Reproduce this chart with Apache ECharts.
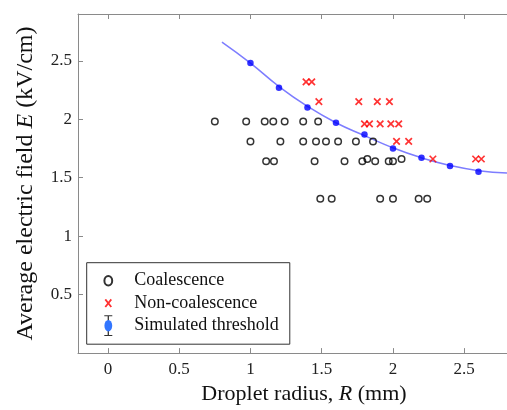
<!DOCTYPE html>
<html><head><meta charset="utf-8">
<script src="https://cdn.jsdelivr.net/npm/echarts@6/dist/echarts.min.js"></script>
<style>html,body{margin:0;padding:0;background:#fff}#c{width:507px;height:410px}</style>
</head><body><div id="c"></div>
<script>
// Coalescence (open circles)
const coalX = [0.75,0.97,1.10,1.16,1.24,1.37,1.475, 1.00,1.21,1.37,1.46,1.53,1.615,1.74,1.86, 1.11,1.165,1.45,1.66,1.785,1.82,1.875,1.97,2.00,2.06, 1.49,1.57,1.91,2.00,2.18,2.24];
const coalY = [1.98,1.98,1.98,1.98,1.98,1.98,1.98, 1.81,1.81,1.81,1.81,1.81,1.81,1.81,1.81, 1.64,1.64,1.64,1.64,1.64,1.66,1.64,1.64,1.64,1.66, 1.32,1.32,1.32,1.32,1.32,1.32];
// Non-coalescence (red crosses)
const nonX = [1.39,1.43,1.48,1.76,1.89,1.975,1.80,1.835,1.91,1.985,2.04,2.025,2.11,2.28,2.58,2.62];
const nonY = [2.32,2.32,2.15,2.15,2.15,2.15,1.96,1.96,1.96,1.96,1.96,1.81,1.81,1.66,1.66,1.66];
// Simulated threshold (blue dots)
const simX = [1.0,1.2,1.4,1.6,1.8,2.0,2.2,2.4,2.6];
const simY = [2.48,2.27,2.10,1.97,1.87,1.75,1.67,1.60,1.55];
// Fitted curve
const fitX = [0.80,1.0,1.2,1.4,1.6,1.8,2.0,2.2,2.4,2.6,2.8];
const fitY = [2.66,2.48,2.28,2.11,1.97,1.86,1.755,1.67,1.605,1.56,1.54];
// Tick labels
const xTicks = [0,0.5,1,1.5,2,2.5];
const yTicks = [0.5,1,1.5,2,2.5];

const zip = (a,b)=>a.map((v,i)=>[v,b[i]]);
const FF = '"Liberation Serif","Times New Roman",serif';

function svgIcon(inner){
  return 'image://data:image/svg+xml;charset=utf-8,' + encodeURIComponent(
    '<svg xmlns="http://www.w3.org/2000/svg" width="28" height="21" viewBox="0 0 28 21">'+inner+'</svg>');
}
const iconCoal = svgIcon('<ellipse cx="7" cy="10.5" rx="3.9" ry="4.8" fill="none" stroke="#000" stroke-width="2"/>');
const iconNon = svgIcon('<path d="M4,6.7L10,14.3M10,6.7L4,14.3" stroke="#ff0000" stroke-width="1.8" fill="none"/>');
const iconSim = svgIcon('<path d="M7,0.5V20.5M3,0.5H11M3,20.5H11" stroke="#000" stroke-width="1.3" fill="none"/><ellipse cx="7" cy="10.5" rx="3.9" ry="5.8" fill="#0055ff"/>');

const chart = echarts.init(document.getElementById('c'), null, {renderer:'canvas'});
const axisLineStyle = {color:'#8a8a8a', width:1};
chart.setOption({
  animation:false,
  backgroundColor:'#fff',
  grid:{left:78, right:0, top:14, bottom:48, containLabel:false},
  xAxis:[{
    type:'value', min:-0.21, max:2.8, position:'bottom',
    name:'Droplet radius, {i|R} (mm)', nameLocation:'middle', nameGap:28,
    nameTextStyle:{fontFamily:FF, fontSize:22, color:'#111', padding:[0,0,0,23],
      rich:{i:{fontFamily:FF, fontSize:22, fontStyle:'italic', color:'#111'}}},
    axisLine:{show:true, onZero:false, lineStyle:axisLineStyle},
    axisTick:{show:true, inside:true, length:5, customValues:xTicks, lineStyle:axisLineStyle},
    axisLabel:{customValues:xTicks, fontFamily:FF, fontSize:17, color:'#222', margin:8},
    splitLine:{show:false}
  },{
    type:'value', min:-0.21, max:2.8, position:'top',
    axisLine:{show:true, onZero:false, lineStyle:axisLineStyle},
    axisTick:{show:true, inside:true, length:5, customValues:xTicks, lineStyle:axisLineStyle},
    axisLabel:{show:false}, splitLine:{show:false}
  }],
  yAxis:{
    type:'value', min:0, max:2.9,
    name:'Average electric field {i|E} (kV/cm)', nameLocation:'middle', nameGap:40,
    nameTextStyle:{fontFamily:FF, fontSize:24, color:'#111',
      rich:{i:{fontFamily:FF, fontSize:24, fontStyle:'italic', color:'#111'}}},
    axisLine:{show:true, onZero:false, lineStyle:axisLineStyle},
    axisTick:{show:true, inside:true, length:5, customValues:yTicks, lineStyle:axisLineStyle},
    axisLabel:{customValues:yTicks, fontFamily:FF, fontSize:17, color:'#222', margin:6},
    splitLine:{show:false}
  },
  legend:{
    orient:'vertical', left:86.7, top:262.7,
    backgroundColor:'#fff', borderColor:'#333', borderWidth:1, borderRadius:0,
    padding:[7.5,11,8,14.6], itemWidth:28, itemHeight:21, itemGap:1.5,
    textStyle:{fontFamily:FF, fontSize:18, color:'#111'},
    data:[{name:'Coalescence', icon:iconCoal},{name:'Non-coalescence', icon:iconNon},{name:'Simulated threshold', icon:iconSim}]
  },
  series:[
    {name:'fit', type:'line', data:zip(fitX,fitY), smooth:true, showSymbol:false, symbol:'none',
     lineStyle:{color:'#7d7dff', width:1.5}, z:1, silent:true},
    {name:'Coalescence', type:'scatter', data:zip(coalX,coalY), symbol:'circle', symbolSize:6.5,
     itemStyle:{color:'rgba(255,255,255,0)', borderColor:'#000', borderWidth:1.5}, z:2},
    {name:'Non-coalescence', type:'scatter', data:zip(nonX,nonY), symbol:'path://M0,0L10,10M10,0L0,10', symbolSize:6.5,
     itemStyle:{color:'#ff0000', borderColor:'#ff0000', borderWidth:1.7}, z:3},
    {name:'Simulated threshold', type:'scatter', data:zip(simX,simY), symbol:'circle', symbolSize:6.5,
     itemStyle:{color:'#0000ff'}, z:4}
  ]
});
</script></body></html>
